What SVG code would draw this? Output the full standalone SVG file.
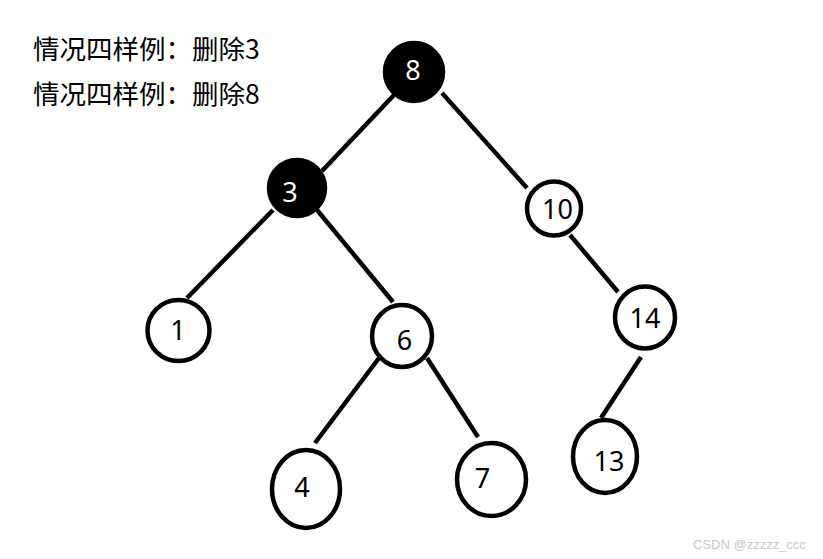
<svg xmlns="http://www.w3.org/2000/svg" width="823" height="559" viewBox="0 0 823 559">
<style>
.edge{stroke:#000;stroke-width:4.5;fill:none;stroke-linecap:butt}
.node{stroke:#000;stroke-width:4.5;fill:#fff}
.black{fill:#000}
.lbl{font-family:"Noto Sans","Liberation Sans",sans-serif;font-size:27px;fill:#000;text-anchor:middle}
.wl{fill:#fff}
.title{font-family:"Noto Sans CJK SC","Noto Sans",sans-serif;font-size:26.5px;fill:#000}
.wm{font-family:"Liberation Sans","DejaVu Sans",sans-serif;font-size:13px;fill:#c8c8c8}
</style>
<rect width="823" height="559" fill="#fff"/>
<g id="title">
<text class="title" x="33" y="59">情况四样例：删除3</text>
<text class="title" x="33" y="104">情况四样例：删除8</text>
</g>
<g id="connectors">
<line class="edge" x1="394" y1="95" x2="322" y2="171"/>
<line class="edge" x1="442" y1="93" x2="527" y2="188"/>
<line class="edge" x1="273" y1="210" x2="187" y2="298"/>
<line class="edge" x1="317" y1="210" x2="393" y2="302"/>
<line class="edge" x1="570" y1="235" x2="618" y2="292"/>
<line class="edge" x1="379" y1="358" x2="315" y2="443"/>
<line class="edge" x1="427" y1="358" x2="478" y2="437"/>
<line class="edge" x1="641" y1="357" x2="601" y2="418"/>
</g>
<g id="node-8">
<circle class="node black" cx="414" cy="72" r="29"/>
<text class="lbl wl" x="413" y="80">8</text>
</g>
<g id="node-3">
<circle class="node black" cx="297" cy="188" r="28"/>
<text class="lbl wl" x="290" y="202">3</text>
</g>
<g id="node-10">
<circle class="node" cx="554" cy="208.5" r="27"/>
<text class="lbl" x="557.5" y="219">10</text>
</g>
<g id="node-1">
<ellipse class="node" cx="178.5" cy="330.5" rx="31" ry="30.5"/>
<text class="lbl" x="178" y="340">1</text>
</g>
<g id="node-6">
<ellipse class="node" cx="402" cy="336" rx="30" ry="31"/>
<text class="lbl" x="404.5" y="350">6</text>
</g>
<g id="node-14">
<ellipse class="node" cx="645" cy="317.5" rx="30" ry="31"/>
<text class="lbl" x="645" y="328">14</text>
</g>
<g id="node-4">
<ellipse class="node" cx="306" cy="489" rx="34" ry="39"/>
<text class="lbl" x="302" y="497">4</text>
</g>
<g id="node-7">
<ellipse class="node" cx="491.5" cy="479.5" rx="34.5" ry="36.5"/>
<text class="lbl" x="482.5" y="488">7</text>
</g>
<g id="node-13">
<ellipse class="node" cx="605" cy="456.5" rx="32" ry="36.5"/>
<text class="lbl" x="609" y="471">13</text>
</g>
<g id="watermark">
<text class="wm" x="693" y="549">CSDN @zzzzz_ccc</text>
</g>
</svg>
